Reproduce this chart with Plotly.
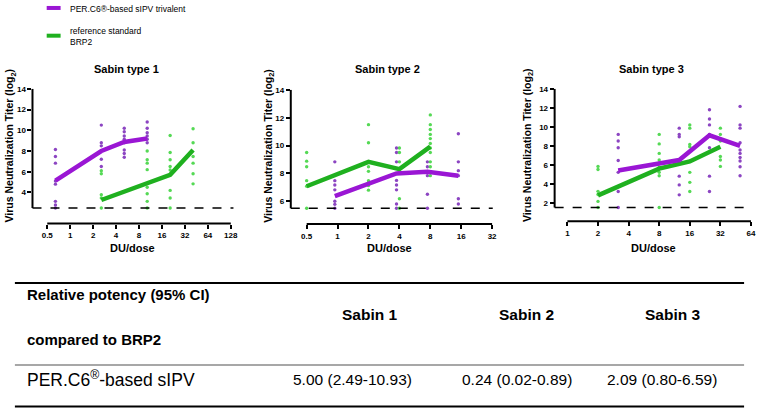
import plotly.graph_objects as go

# ---- data ----
# Sabin type 1
s1_purple_dose = [0.64, 2.56, 5.12, 10.24]
s1_purple_pts = [[8.14, 7.47, 6.83, 5.1, 4.8, 3.14, 2.8, 2.5],
                 [10.5, 8.8, 8.5, 8.04, 7.2, 6.5],
                 [10.2, 9.86, 9.45, 9.13, 8.8, 8.1, 7.76, 7.4],
                 [10.8, 10.2, 9.76, 9.45, 9.13, 8.8]]
s1_purple_mean = [5.15, 8.0, 8.87, 9.2]
s1_green_dose = [2.56, 10.24, 20.48, 40.96]
s1_green_pts = [[6.1, 5.8, 3.78, 3.46, 2.5],
                [8.0, 7.15, 6.83, 6.2, 4.5, 3.87, 3.14, 2.5],
                [9.5, 7.85, 7.15, 6.5, 6.17, 4.2, 3.46, 2.5],
                [10.15, 8.8, 7.47, 6.83, 5.8, 4.83]]
s1_green_mean = [3.27, 4.9, 5.7, 8.1]

# Sabin type 2
s2_purple_dose = [0.94, 3.75, 7.5, 15]
s2_purple_pts = [[8.83, 7.48, 7.17, 6.82, 6.0, 5.78, 5.5],
                 [9.83, 9.5, 8.83, 7.5, 7.17, 6.82, 5.8, 5.5],
                 [8.83, 8.48, 8.15, 7.84, 6.5, 5.5],
                 [10.85, 8.83, 8.2, 7.84, 6.18, 5.8]]
s2_purple_mean = [6.37, 8.0, 8.12, 7.84]
s2_green_dose = [0.5, 2, 4, 8]
s2_green_pts = [[9.5, 8.88, 8.48, 7.48, 7.08, 5.5],
                [11.5, 10.2, 8.83, 8.48, 8.15, 7.48, 7.13, 6.8],
                [9.83, 9.5, 8.83, 8.15, 6.18, 5.5],
                [12.2, 11.5, 11.15, 10.8, 10.5, 10.15, 9.83, 9.5, 8.83, 8.48, 7.84]]
s2_green_mean = [7.08, 8.83, 8.31, 9.92]

# Sabin type 3
s3_purple_dose = [3.16, 12.6, 25, 50]
s3_purple_pts = [[9.2, 8.5, 7.8, 6.45, 5.2, 3.18, 1.5],
                 [9.86, 9.2, 8.95, 4.8, 3.88, 2.83],
                 [11.8, 10.83, 10.2, 9.2, 7.8, 4.8, 3.18],
                 [12.15, 10.2, 9.86, 8.33, 7.56, 7.2, 6.77, 6.4, 5.8, 4.85]]
s3_purple_mean = [5.4, 6.5, 9.1, 8.0]
s3_green_dose = [2, 8, 16, 32]
s3_green_pts = [[5.83, 5.5, 3.2, 2.87, 2.14, 1.5],
                [9.2, 8.2, 7.2, 6.5, 6.17, 5.75, 5.2, 4.85, 1.5],
                [10.2, 9.86, 8.15, 7.9, 5.2, 4.15, 3.18],
                [9.86, 9.2, 8.5, 6.87, 6.5, 5.83]]
s3_green_mean = [2.77, 5.6, 6.35, 7.9]

titles = ["Sabin type 1", "Sabin type 2", "Sabin type 3"]
lod = [2.5, 5.5, 1.5]
x_ticks = [[0.5, 1, 2, 4, 8, 16, 32, 64, 128],
           [0.5, 1, 2, 4, 8, 16, 32],
           [1, 2, 4, 8, 16, 32, 64]]
y_ticks = [[4, 6, 8, 10, 12, 14],
           [6, 8, 10, 12, 14],
           [2, 4, 6, 8, 10, 12, 14]]

table_cols = ["Sabin 1", "Sabin 2", "Sabin 3"]
table_vals = ["5.00 (2.49-10.93)", "0.24 (0.02-0.89)", "2.09 (0.80-6.59)"]

# ---- styling ----
W, H = 762, 408
PURPLE_LINE = "#9A16D4"
PURPLE_PT = "#8C45C2"
GREEN_LINE = "#1FB01F"
GREEN_PT = "#55D955"
FONT = "Liberation Sans, Arial, sans-serif"


def px(x):
    return x / W


def py(y):
    return 1 - y / H


# pixel geometry of each panel: (left, right, bottom, top), x range (log10), y range
panels = [
    dict(dom=(32.7, 235, 221.7, 85.7), xr=[-0.4949, 2.1421], yr=[1.0, 14]),
    dict(dom=(292.7, 496, 222.3, 86.7), xr=[-0.4558, 1.5112], yr=[4.36, 14]),
    dict(dom=(558.3, 757, 219.3, 85.7), xr=[-0.1258, 1.8167], yr=[0.06, 14]),
]

groups = [
    (s1_purple_dose, s1_purple_pts, s1_purple_mean, s1_green_dose, s1_green_pts, s1_green_mean),
    (s2_purple_dose, s2_purple_pts, s2_purple_mean, s2_green_dose, s2_green_pts, s2_green_mean),
    (s3_purple_dose, s3_purple_pts, s3_purple_mean, s3_green_dose, s3_green_pts, s3_green_mean),
]

fig = go.Figure()
shapes = []
annotations = []


def note(x, y, text, size, xanchor="center", angle=0):
    annotations.append(dict(x=px(x), y=py(y), xref="paper", yref="paper", text=text,
                            xanchor=xanchor, yanchor="middle", align="left",
                            textangle=angle, showarrow=False,
                            font=dict(family=FONT, size=size, color="black")))


for i, (pd_, pp, pm, gd, gp, gm) in enumerate(groups):
    n = "" if i == 0 else str(i + 1)
    xa, ya = "x" + n, "y" + n
    # individual titers
    for dose, pts, col in [(pd_, pp, PURPLE_PT), (gd, gp, GREEN_PT)]:
        xs, ys = [], []
        for d, vals in zip(dose, pts):
            xs += [d] * len(vals)
            ys += vals
        fig.add_trace(go.Scatter(x=xs, y=ys, mode="markers", xaxis=xa, yaxis=ya,
                                 marker=dict(color=col, size=3.4), showlegend=False,
                                 cliponaxis=False))
    # mean lines
    fig.add_trace(go.Scatter(x=gd, y=gm, mode="lines", xaxis=xa, yaxis=ya,
                             line=dict(color=GREEN_LINE, width=4.5), showlegend=False))
    fig.add_trace(go.Scatter(x=pd_, y=pm, mode="lines", xaxis=xa, yaxis=ya,
                             line=dict(color=PURPLE_LINE, width=4.5), showlegend=False))

    p = panels[i]
    l, r, b, t = p["dom"]
    fig.layout["xaxis" + n] = dict(
        domain=[px(l), px(r)], type="log", range=p["xr"], anchor=ya,
        showline=False, showgrid=False, zeroline=False,
        tickvals=x_ticks[i], ticktext=[str(v) for v in x_ticks[i]],
        ticks="outside", ticklen=4, tickwidth=1.5, tickcolor="black",
        tickfont=dict(family=FONT, size=8, color="black", weight="bold"))
    fig.layout["yaxis" + n] = dict(
        domain=[py(b), py(t)], range=p["yr"], anchor=xa,
        showline=False, showgrid=False, zeroline=False,
        tickvals=y_ticks[i], ticks="outside", ticklen=4, tickwidth=1.5, tickcolor="black",
        tickfont=dict(family=FONT, size=8, color="black", weight="bold"))

    # detection limit (dashed)
    shapes.append(dict(type="line", xref=xa + " domain", yref=ya, x0=0, x1=1,
                       y0=lod[i], y1=lod[i], line=dict(color="black", width=1.5, dash="dash")))
    # y axis line ending at the detection limit
    shapes.append(dict(type="line", xref=xa + " domain", yref=ya, x0=0, x1=0,
                       y0=lod[i], y1=14, line=dict(color="black", width=2)))
    # detached x axis line
    shapes.append(dict(type="line", xref=xa, yref=ya + " domain", x0=x_ticks[i][0],
                       x1=x_ticks[i][-1], y0=0, y1=0, line=dict(color="black", width=2)))

# titles and axis labels
title_x = [127, 390, 656]
ytitle_x = [10, 270, 531]
dose_x = [133, 391.7, 658]
for i in range(3):
    note(title_x[i], 66, "<b>" + titles[i] + "</b>", 11)
    note(ytitle_x[i], 143, "<b>Virus Neutralization Titer (log<sub>2</sub>)</b>", 10.5, angle=-90)
    note(dose_x[i], 246.5, "<b>DU/dose</b>", 11)

# legend
shapes.append(dict(type="line", xref="paper", yref="paper", x0=px(47), x1=px(61),
                   y0=py(4), y1=py(4), line=dict(color=PURPLE_LINE, width=4)))
shapes.append(dict(type="line", xref="paper", yref="paper", x0=px(47), x1=px(61),
                   y0=py(32), y1=py(32), line=dict(color=GREEN_LINE, width=4)))
note(68, 5, "PER.C6®-based sIPV trivalent", 8.5, xanchor="left")
note(68, 32.5, "reference standard<br>BRP2", 8.5, xanchor="left")

# table
for yy, col, w in [(281.7, "black", 2), (364.7, "#8a8a8a", 1.5), (406.5, "black", 2)]:
    shapes.append(dict(type="line", xref="paper", yref="paper", x0=px(15), x1=px(749),
                       y0=py(yy), y1=py(yy), line=dict(color=col, width=w)))
note(25, 293.5, "<b>Relative potency (95% CI)</b>", 15, xanchor="left")
note(25, 339, "<b>compared to BRP2</b>", 15, xanchor="left")
col_x = [372, 530, 677]
val_x = [355, 520, 666]
for cx, vx, name, val in zip(col_x, val_x, table_cols, table_vals):
    note(cx, 314, "<b>" + name + "</b>", 15.5)
    note(vx, 379, val, 15.5)
note(25, 379, "PER.C6<sup>®</sup>-based sIPV", 17.5, xanchor="left")

fig.update_layout(width=W, height=H, margin=dict(l=0, r=0, t=0, b=0),
                  plot_bgcolor="white", paper_bgcolor="white",
                  shapes=shapes, annotations=annotations, showlegend=False)

fig.write_html("out.html", config={"displayModeBar": False},
               post_script="document.body.style.margin='0';")
